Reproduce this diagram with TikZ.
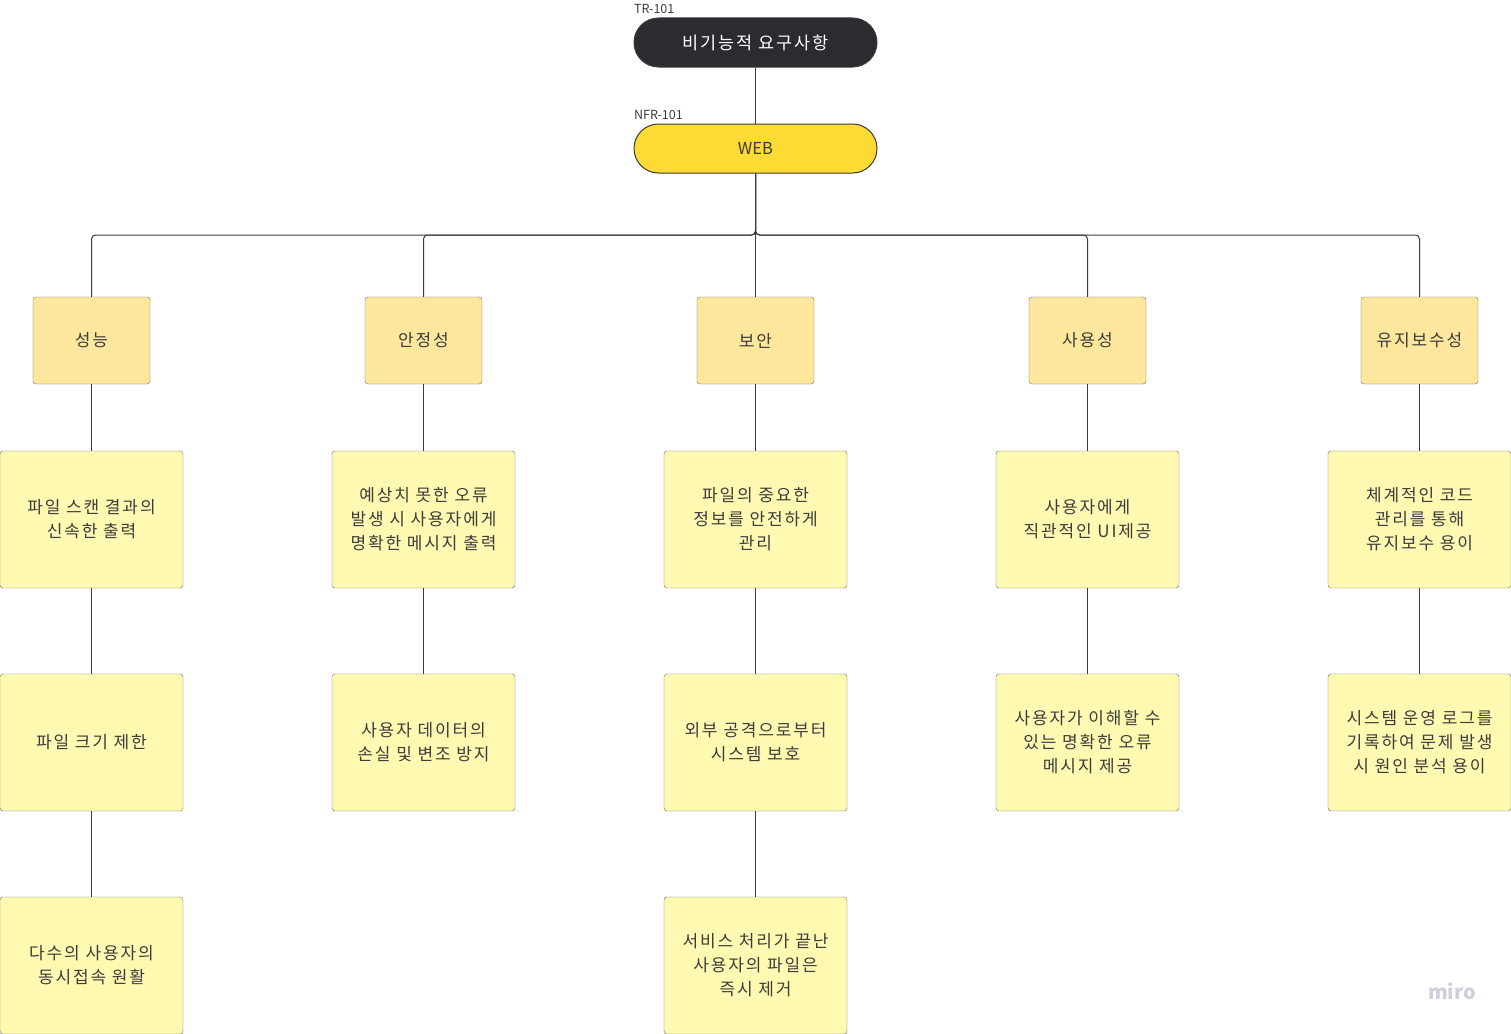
\documentclass[tikz,border=0pt]{standalone}
\usepackage{fontspec}
\setmainfont{Noto Sans CJK KR}
\newfontfamily\wideko{Noto Sans CJK KR}[LetterSpace=11]
\usepackage{tikz}
\usetikzlibrary{positioning}

\definecolor{topdark}{HTML}{2B2C30}
\definecolor{webyellow}{HTML}{FEDB33}
\definecolor{catfill}{HTML}{FDE79D}
\definecolor{notefill}{HTML}{FFF9B1}
\definecolor{edgegray}{HTML}{6E6E64}
\definecolor{linegray}{HTML}{3A3A3A}
\definecolor{txtgray}{HTML}{3C3C3C}
\definecolor{mirogray}{HTML}{CFCFDA}

\begin{document}
\begin{tikzpicture}[x=1pt,y=-1pt,
    pill/.style={draw=linegray, line width=1pt, rounded corners=24.5pt, minimum width=243pt, minimum height=49pt, inner sep=0pt},
    tag/.style={anchor=west, inner sep=0pt, text=txtgray, font=\fontsize{12.5}{14}\selectfont},
    cat/.style={draw=edgegray, fill=catfill, rounded corners=3pt, minimum width=117pt, minimum height=87pt, inner sep=0pt, text=txtgray, font=\wideko\fontsize{17}{24}\selectfont},
    note/.style={draw=edgegray, fill=notefill, rounded corners=3pt, minimum width=183pt, minimum height=137pt, inner sep=0pt, align=center, text=txtgray, font=\wideko\fontsize{17}{24}\selectfont},
    link/.style={draw=linegray, line width=1pt}]
\useasboundingbox (0,0) rectangle (1511,1033);

% top of the tree
\node[tag] at (634,9) (trtag) {TR-101};
\node[pill, fill=topdark, text=white, font=\wideko\fontsize{17.5}{20}\selectfont] at (755.5,42.5) (top) {비기능적 요구사항};
\node[tag] at (634,115) (nfrtag) {NFR-101};
\node[pill, fill=webyellow, text=txtgray, font=\fontsize{16.5}{20}\selectfont] at (755.5,148.5) (web) {WEB};

% categories
\node[cat] at (91.5,340.5) (perf) {성능};
\node[cat] at (423.5,340.5) (stab) {안정성};
\node[cat] at (755.5,340.5) (sec) {보안};
\node[cat] at (1087.5,340.5) (usab) {사용성};
\node[cat] at (1419.5,340.5) (maint) {유지보수성};

% second row
\node[note] at (91.5,519.5) (perf1) {파일 스캔 결과의\\신속한 출력};
\node[note] at (423.5,519.5) (stab1) {예상치 못한 오류\\발생 시 사용자에게\\명확한 메시지 출력};
\node[note] at (755.5,519.5) (sec1) {파일의 중요한\\정보를 안전하게\\관리};
\node[note] at (1087.5,519.5) (usab1) {사용자에게\\직관적인 UI제공};
\node[note] at (1419.5,519.5) (maint1) {체계적인 코드\\관리를 통해\\유지보수 용이};

% third row
\node[note] at (91.5,742.5) (perf2) {파일 크기 제한};
\node[note] at (423.5,742.5) (stab2) {사용자 데이터의\\손실 및 변조 방지};
\node[note] at (755.5,742.5) (sec2) {외부 공격으로부터\\시스템 보호};
\node[note] at (1087.5,742.5) (usab2) {사용자가 이해할 수\\있는 명확한 오류\\메시지 제공};
\node[note] at (1419.5,742.5) (maint2) {시스템 운영 로그를\\기록하여 문제 발생\\시 원인 분석 용이};

% fourth row
\node[note] at (91.5,965.5) (perf3) {다수의 사용자의\\동시접속 원활};
\node[note] at (755.5,965.5) (sec3) {서비스 처리가 끝난\\사용자의 파일은\\즉시 제거};

\node[text=mirogray, inner sep=0pt, font=\fontsize{20}{22}\selectfont\bfseries] at (1452,991) (miro) {miro};

% connectors
\path[link] (top) -- (web);
\foreach \c in {perf,stab,sec,usab,maint}
  \path[link, rounded corners=4pt] (web.south) -- (755.5,235) -| (\c.north);
\foreach \a/\b in {perf/perf1,perf1/perf2,perf2/perf3,stab/stab1,stab1/stab2,
                   sec/sec1,sec1/sec2,sec2/sec3,usab/usab1,usab1/usab2,
                   maint/maint1,maint1/maint2}
  \path[link] (\a) -- (\b);
\end{tikzpicture}
\end{document}
